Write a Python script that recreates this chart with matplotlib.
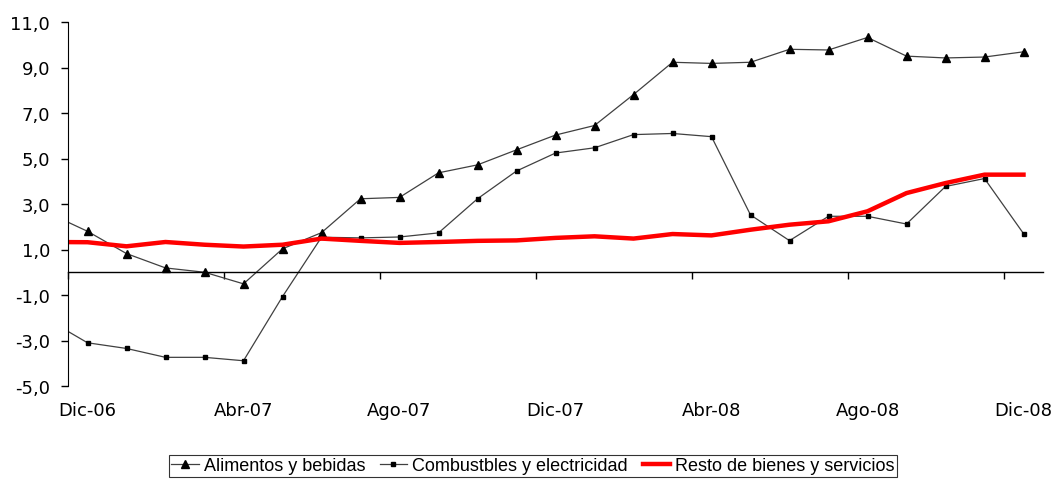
import matplotlib.pyplot as plt
from matplotlib.ticker import FixedLocator

# months Nov-06 .. Dic-08 (Nov-06 sits just outside the plotted range)
months = ["Nov-06", "Dic-06", "Ene-07", "Feb-07", "Mar-07", "Abr-07", "May-07", "Jun-07",
          "Jul-07", "Ago-07", "Sep-07", "Oct-07", "Nov-07", "Dic-07", "Ene-08", "Feb-08",
          "Mar-08", "Abr-08", "May-08", "Jun-08", "Jul-08", "Ago-08", "Sep-08", "Oct-08",
          "Nov-08", "Dic-08"]

alimentos = [2.6, 1.8, 0.82, 0.19, 0.0, -0.51, 1.03, 1.74,
             3.23, 3.29, 4.37, 4.72, 5.38, 6.03, 6.45, 7.81,
             9.23, 9.18, 9.23, 9.8, 9.77, 10.32, 9.5, 9.42,
             9.46, 9.69]

combustibles = [-2.1, -3.1, -3.35, -3.74, -3.74, -3.89, -1.07, 1.54,
                1.51, 1.55, 1.73, 3.23, 4.45, 5.24, 5.47, 6.05,
                6.1, 5.96, 2.52, 1.39, 2.46, 2.46, 2.12, 3.77,
                4.12, 1.7]

resto = [1.33, 1.32, 1.14, 1.33, 1.21, 1.13, 1.21, 1.48,
         1.38, 1.29, 1.33, 1.38, 1.40, 1.51, 1.58, 1.48,
         1.68, 1.62, 1.87, 2.09, 2.24, 2.68, 3.48, 3.92,
         4.29, 4.29]

tickLabels = ["Dic-06", "Abr-07", "Ago-07", "Dic-07", "Abr-08", "Ago-08", "Dic-08"]

x = list(range(-1, len(months) - 1))

fig = plt.figure(figsize=(10.57, 4.81), dpi=100)
ax = fig.add_axes([68 / 1057, 1 - 387 / 481, (1043 - 68) / 1057, (387 - 23) / 481])

ax.plot(x, alimentos, color="#404040", lw=0.9, marker="^", markersize=6,
        markerfacecolor="black", markeredgecolor="black", markevery=list(range(1, len(x))),
        label="Alimentos y bebidas")
ax.plot(x, combustibles, color="#404040", lw=0.9, marker="s", markersize=3.2,
        markerfacecolor="black", markeredgecolor="black", markevery=list(range(1, len(x))),
        label="Combustbles y electricidad")
ax.plot(x, resto, color="#ff0000", lw=3.2, label="Resto de bienes y servicios")

ax.set_xlim(-0.5, 24.5)
ax.set_ylim(-5, 11)

# y axis
ax.set_yticks(range(-5, 12, 2))
ax.set_yticklabels([f"{v},0" for v in range(-5, 12, 2)], fontsize=13, family="DejaVu Sans")
ax.tick_params(axis="y", direction="out", length=5, width=1, pad=8)
for s in ["top", "right"]:
    ax.spines[s].set_visible(False)

# category axis crossing at zero, ticks between categories
ax.spines["bottom"].set_position(("data", 0))
ax.spines["bottom"].set_linewidth(1)
ax.xaxis.set_major_locator(FixedLocator([i - 0.5 for i in range(0, 25, 4)]))
ax.tick_params(axis="x", direction="out", length=5, width=1, labelbottom=False)

sec = ax.secondary_xaxis("bottom")
sec.set_xticks(range(0, 25, 4))
sec.set_xticklabels(tickLabels, fontsize=13, family="DejaVu Sans")
sec.tick_params(length=0, pad=11)
sec.spines["bottom"].set_visible(False)

leg = fig.legend(loc="center", bbox_to_anchor=(533 / 1057, 1 - 467 / 481), ncol=3,
                 frameon=True, fancybox=False, edgecolor="black", handlelength=1.5,
                 handletextpad=0.3, columnspacing=0.8, borderpad=0.15,
                 prop={"family": "Liberation Sans", "size": 13})
leg.get_frame().set_linewidth(0.8)

fig.savefig("out.png", dpi=100)
